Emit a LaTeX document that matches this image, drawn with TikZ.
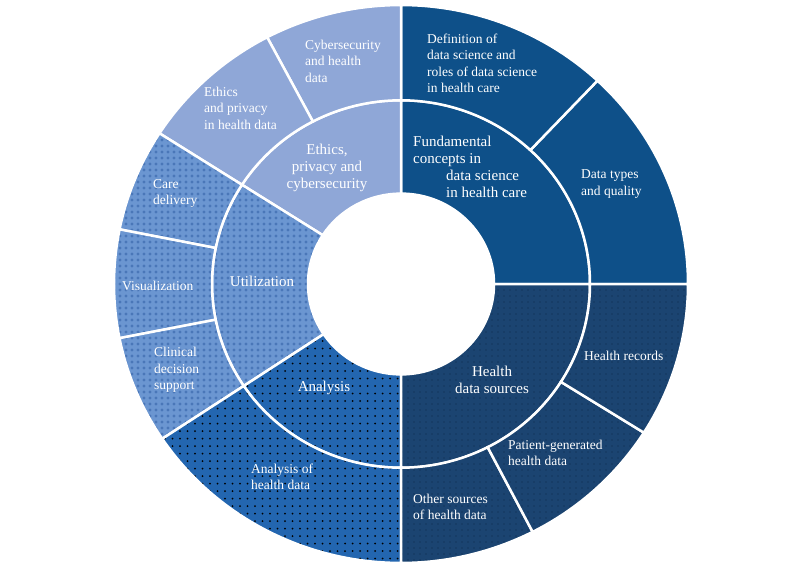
\documentclass[tikz,border=0pt]{standalone}
\usepackage{fontspec}
\setmainfont{Liberation Serif}
\usetikzlibrary{patterns.meta}

\definecolor{fundblue}{HTML}{0E5089}
\definecolor{ethblue}{HTML}{8FA7D7}
\definecolor{utilblue}{HTML}{6B96D1}
\definecolor{utildot}{HTML}{4A77B8}
\definecolor{anablue}{HTML}{2366B0}
\definecolor{hdsblue}{HTML}{1B4471}
\definecolor{hdsdot}{HTML}{0A2646}

\tikzset{
  seg/.style={draw=white, line width=2.5pt},
  fundseg/.style={seg, preaction={fill=fundblue}},
  ethseg/.style={seg, preaction={fill=ethblue}},
  utilseg/.style={seg, preaction={fill=utilblue},
    preaction={pattern={Dots[distance=6pt, radius=1.7pt]}, pattern color=utildot}},
  anaseg/.style={seg, preaction={fill=anablue},
    preaction={pattern={Dots[distance=7.5pt, radius=1pt]}, pattern color=black}},
  hdsseg/.style={seg, preaction={fill=hdsblue},
    preaction={pattern={Dots[distance=6pt, radius=0.7pt]}, pattern color=hdsdot}},
  outerlbl/.style={text=white, font=\fontsize{13.5}{16.5}\selectfont, align=left, anchor=west, inner sep=0pt},
  innerlbl/.style={text=white, font=\fontsize{15}{17}\selectfont, align=center, inner sep=0pt}
}

\begin{document}
\begin{tikzpicture}[x=1pt, y=1pt]
  \useasboundingbox (0,0) rectangle (800,566);

  \begin{scope}[shift={(401,282)}, yscale=0.972]
    % inner ring
    \foreach \st/\a/\b in {fundseg/0/90, ethseg/90/147.3, utilseg/147.3/213.7,
                           anaseg/213.7/270, hdsseg/270/360}
      \path[\st] (\a:93) arc[start angle=\a, end angle=\b, radius=93]
        -- (\b:189) arc[start angle=\b, end angle=\a, radius=189] -- cycle;
    % outer ring
    \foreach \st/\a/\b in {fundseg/0/46.8, fundseg/46.8/90,
                           ethseg/90/117.8, ethseg/117.8/147.3,
                           utilseg/147.3/168.7, utilseg/168.7/191.2, utilseg/191.2/213.7,
                           anaseg/213.7/270,
                           hdsseg/270/297.3, hdsseg/297.3/327.8, hdsseg/327.8/360}
      \path[\st] (\a:189) arc[start angle=\a, end angle=\b, radius=189]
        -- (\b:287) arc[start angle=\b, end angle=\a, radius=287] -- cycle;
  \end{scope}

  % inner labels
  \node[innerlbl, align=left, anchor=west] (fund) at (413,399)
    {Fundamental\\concepts in\\\hspace*{33pt}data science\\\hspace*{33pt}in health care};
  \node[innerlbl] (eth) at (327,398) {Ethics,\\privacy and\\cybersecurity};
  \node[innerlbl] (util) at (262,285) {Utilization};
  \node[innerlbl] (ana) at (324,178) {Analysis};
  \node[innerlbl] (hds) at (492,186) {Health\\data sources};

  % outer labels
  \node[outerlbl] (defn) at (427,502.5) {Definition of\\data science and\\roles of data science\\in health care};
  \node[outerlbl] (types) at (581,382) {Data types\\and quality};
  \node[outerlbl] (cyber) at (305,505) {Cybersecurity\\and health\\data};
  \node[outerlbl] (ethpriv) at (204,458) {Ethics\\and privacy\\in health data};
  \node[outerlbl] (care) at (153,372.5) {Care\\delivery};
  \node[outerlbl] (visual) at (122,280) {Visualization};
  \node[outerlbl] (clinical) at (154,196) {Clinical\\decision\\support};
  \node[outerlbl] (anaof) at (251,89) {Analysis of\\health data};
  \node[outerlbl] (other) at (413,59) {Other sources\\of health data};
  \node[outerlbl] (patient) at (508,113) {Patient-generated\\health data};
  \node[outerlbl] (records) at (584,210) {Health records};
\end{tikzpicture}
\end{document}
